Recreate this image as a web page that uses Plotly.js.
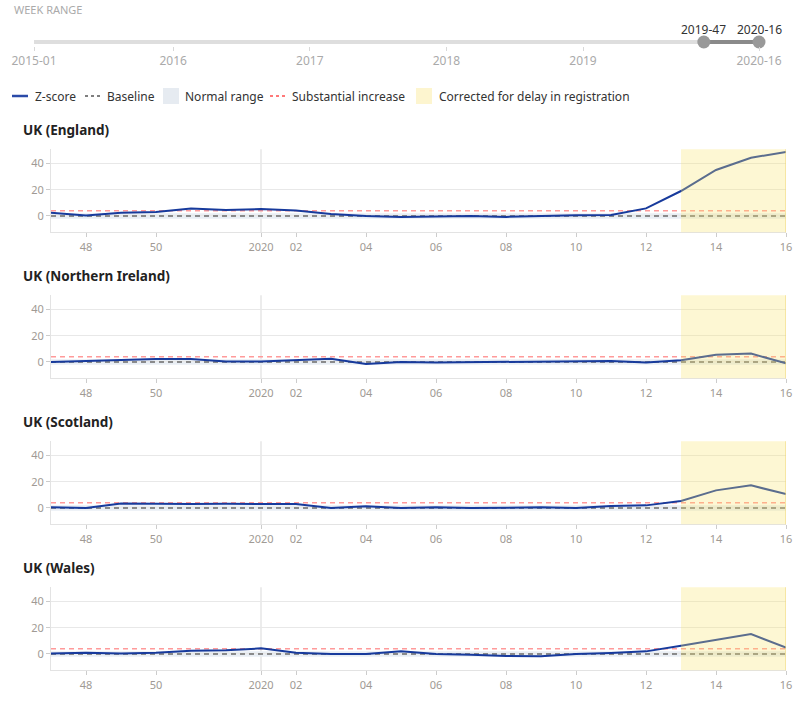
<!DOCTYPE html>
<html>
<head>
<meta charset="utf-8">
<script src="https://cdn.plot.ly/plotly-3.0.1.min.js"></script>
<style>html,body{margin:0;padding:0;background:#fff;}#chart{width:800px;height:703px;}</style>
</head>
<body>
<div id="chart"></div>
<script>
// ---- data ----
const weeks = ["2019-47","2019-48","2019-49","2019-50","2019-51","2019-52",
  "2020-01","2020-02","2020-03","2020-04","2020-05","2020-06","2020-07","2020-08",
  "2020-09","2020-10","2020-11","2020-12","2020-13","2020-14","2020-15","2020-16"];
const tickWeeks = ["2019-48","2019-50","2020-01","2020-02","2020-04","2020-06","2020-08","2020-10","2020-12","2020-14","2020-16"];
const tickLabels = ["48","50","2020","02","04","06","08","10","12","14","16"];
const yearStartWeek = "2020-01";
const correctedFrom = "2020-13";
const regions = ["UK (England)","UK (Northern Ireland)","UK (Scotland)","UK (Wales)"];
const zEngland  = [2.5,0.4,2.4,3.0,5.7,4.5,5.3,4.2,1.5,0.0,-0.8,-0.5,0.0,-0.7,0.0,0.5,0.8,5.8,19.0,35.0,44.3,48.7];
const zNIreland = [0.0,0.8,1.8,2.3,2.3,0.4,0.3,1.5,2.5,-1.5,0.0,-0.4,-0.2,0.2,0.3,0.2,0.8,-0.3,1.3,5.6,6.4,-1.0];
const zScotland = [0.5,0.0,3.5,3.2,3.0,3.2,3.0,3.0,0.0,1.3,0.0,0.5,0.0,0.5,0.5,0.0,1.5,2.0,5.3,13.4,17.2,10.6];
const zWales    = [0.3,1.0,0.3,1.0,2.5,2.8,4.3,1.0,0.0,0.0,2.0,0.0,-0.5,-1.5,-1.8,0.0,0.8,2.0,6.3,10.9,15.2,4.8];
const zSeries = [zEngland, zNIreland, zScotland, zWales];
const baselineValue = 0;
const substantialValue = 4;
const normalRange = [-2, 2];
const yTicks = [0, 20, 40];
// week-range slider
const sliderTickIdx = [0, 53, 105, 157, 209, 276];
const sliderTickText = ["2015-01","2016","2017","2018","2019","2020-16"];
const sliderSelIdx = [255, 276];
const sliderSelText = ["2019-47","2020-16"];
const legendLabels = ["Z-score","Baseline","Normal range","Substantial increase","Corrected for delay in registration"];

// ---- layout helpers ----
const W = 800, H = 703;
const px = x => x / W;
const py = y => 1 - y / H;
const FONT = "Noto Sans, Open Sans, sans-serif";
const BLUE = "#173a9c";
const zeroPx = [216, 362, 508, 654];
const yRange = [-12.4, 50.7];
const unit = 1.315;

const traces = [];
const shapes = [];
const annotations = [];
const layout = {
  width: W, height: H,
  margin: {l: 0, r: 0, t: 0, b: 0},
  paper_bgcolor: "#fff", plot_bgcolor: "#fff",
  showlegend: false,
  font: {family: FONT, color: "#999", size: 11},
  shapes, annotations
};

zSeries.forEach((z, i) => {
  const n = i + 1;
  const xa = "x" + (n === 1 ? "" : n), ya = "y" + (n === 1 ? "" : n);
  const top = zeroPx[i] - yRange[1] * unit, bot = zeroPx[i] - yRange[0] * unit;
  layout["xaxis" + (n === 1 ? "" : n)] = {
    domain: [px(51), px(786)], anchor: ya, type: "category",
    categoryorder: "array", categoryarray: weeks,
    range: [0, weeks.length - 1],
    tickvals: tickWeeks, ticktext: tickLabels,
    showgrid: false, zeroline: false,
    showline: true, linecolor: "#e3e3e3", linewidth: 1,
    ticks: "outside", ticklen: 4, tickcolor: "#ccc",
    tickfont: {family: FONT, size: 11, color: "#a09a94"}, fixedrange: true
  };
  layout["yaxis" + (n === 1 ? "" : n)] = {
    domain: [py(bot), py(top)], anchor: xa, range: yRange,
    tickvals: yTicks, showgrid: true, gridcolor: "#e8e8e8", gridwidth: 1,
    zeroline: false, showline: true, linecolor: "#e3e3e3",
    ticks: "outside", ticklen: 4, tickcolor: "#ccc",
    tickfont: {family: FONT, size: 11, color: "#a09a94"}, fixedrange: true
  };
  // normal range band
  shapes.push({type: "rect", xref: xa, yref: ya, layer: "below",
    x0: weeks[0], x1: weeks[weeks.length - 1], y0: normalRange[0], y1: normalRange[1],
    fillcolor: "#e9eef4", line: {width: 0}});
  // year separator
  shapes.push({type: "line", xref: xa, yref: ya + " domain", layer: "below",
    x0: yearStartWeek, x1: yearStartWeek, y0: 0, y1: 1,
    line: {color: "#e0e0e0", width: 1.2}});
  // baseline & substantial increase
  traces.push({x: [weeks[0], weeks[weeks.length - 1]], y: [baselineValue, baselineValue],
    xaxis: xa, yaxis: ya, mode: "lines", hoverinfo: "skip",
    line: {color: "#6b6b6b", width: 1.6, dash: "5px,4px"}});
  traces.push({x: [weeks[0], weeks[weeks.length - 1]], y: [substantialValue, substantialValue],
    xaxis: xa, yaxis: ya, mode: "lines", hoverinfo: "skip",
    line: {color: "#ff9a9a", width: 1.4, dash: "5px,4px"}});
  // z-score
  traces.push({x: weeks, y: z, xaxis: xa, yaxis: ya, mode: "lines", name: "Z-score",
    line: {color: BLUE, width: 2}});
  // corrected for delay overlay
  shapes.push({type: "rect", xref: xa, yref: ya + " domain", layer: "above",
    x0: correctedFrom, x1: weeks[weeks.length - 1], y0: 0, y1: 1,
    fillcolor: "rgba(250,228,110,0.30)", line: {width: 0}});
  shapes.push({type: "line", xref: xa, yref: ya + " domain", layer: "above",
    x0: weeks[weeks.length - 1], x1: weeks[weeks.length - 1], y0: 0, y1: 1,
    line: {color: "rgba(240,215,120,0.7)", width: 1.5}});
  // panel title
  annotations.push({xref: "paper", yref: "paper", x: px(21), y: py(zeroPx[i] - 86),
    xanchor: "left", yanchor: "middle", showarrow: false, text: "<b>" + regions[i] + "</b>",
    font: {family: FONT, size: 13.5, color: "#222"}});
});

// ---- week range slider ----
layout.xaxis5 = {domain: [px(34), px(759)], anchor: "y5", range: [sliderTickIdx[0], sliderTickIdx[sliderTickIdx.length - 1]],
  tickvals: sliderTickIdx, ticktext: sliderTickText, showgrid: false, zeroline: false, showline: false,
  ticks: "outside", ticklen: 4, tickcolor: "#d8d8d8",
  tickfont: {family: FONT, size: 12, color: "#aaa"}, fixedrange: true};
layout.yaxis5 = {domain: [py(46), py(38)], anchor: "x5", range: [-1, 1], visible: false, fixedrange: true};
traces.push({x: [sliderTickIdx[0], sliderTickIdx[sliderTickIdx.length - 1]], y: [0, 0], xaxis: "x5", yaxis: "y5",
  mode: "lines", line: {color: "#dedede", width: 4}, hoverinfo: "skip", cliponaxis: false});
traces.push({x: sliderSelIdx, y: [0, 0], xaxis: "x5", yaxis: "y5", mode: "lines+markers",
  line: {color: "#8a8a8a", width: 4}, marker: {color: "#999", size: 13}, hoverinfo: "skip", cliponaxis: false});
sliderSelIdx.forEach((v, k) => {
  annotations.push({xref: "x5", yref: "paper", x: v, y: py(29), showarrow: false,
    xanchor: "center", yanchor: "middle", text: sliderSelText[k],
    font: {family: FONT, size: 12, color: "#333"}});
});
annotations.push({xref: "paper", yref: "paper", x: px(12), y: py(10), showarrow: false,
  xanchor: "left", yanchor: "middle", text: "WEEK RANGE",
  font: {family: FONT, size: 11, color: "#aaa"}});

// ---- custom legend ----
const ly = py(96);
const legendItems = [
  {kind: "line", x0: 12, x1: 28, color: "#2a4aa8", dash: "solid", w: 2.5, tx: 33},
  {kind: "line", x0: 85, x1: 102, color: "#555", dash: "dot", w: 1.5, tx: 105},
  {kind: "box", x0: 163, x1: 179, color: "#e6ebf1", tx: 183},
  {kind: "line", x0: 270, x1: 287, color: "#ff4d4d", dash: "dot", w: 1.5, tx: 290},
  {kind: "box", x0: 416, x1: 432, color: "#fdf5cf", tx: 437}
];
legendItems.forEach((it, k) => {
  if (it.kind === "line") {
    shapes.push({type: "line", xref: "paper", yref: "paper", x0: px(it.x0), x1: px(it.x1), y0: ly, y1: ly,
      line: {color: it.color, width: it.w, dash: it.dash}});
  } else {
    shapes.push({type: "rect", xref: "paper", yref: "paper", x0: px(it.x0), x1: px(it.x1),
      y0: py(104), y1: py(88), fillcolor: it.color, line: {width: 0}});
  }
  annotations.push({xref: "paper", yref: "paper", x: px(it.tx), y: ly, showarrow: false,
    xanchor: "left", yanchor: "middle", text: legendLabels[k],
    font: {family: FONT, size: 12, color: "#333"}});
});

Plotly.newPlot("chart", traces, layout, {displayModeBar: false, staticPlot: true});
</script>
</body>
</html>
